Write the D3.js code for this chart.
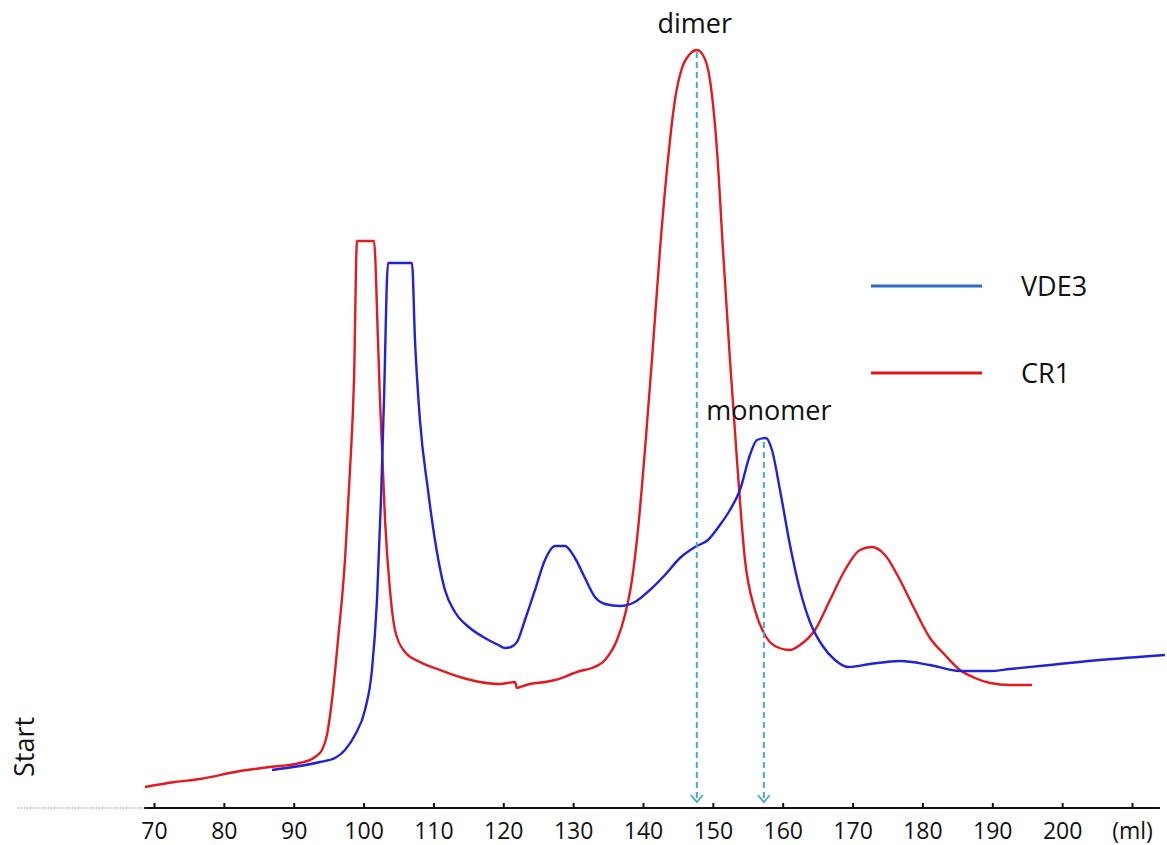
<!DOCTYPE html>
<html>
<head>
<meta charset="utf-8">
<script src="https://cdn.jsdelivr.net/npm/d3@7"></script>
<style>
  body { margin: 0; background: #fff; }
  svg text { font-family: "Open Sans", "DejaVu Sans", sans-serif; fill: #111; }
</style>
</head>
<body>
<div id="chart"></div>
<script>
var width = 1167, height = 845;

// elution volume (ml) / absorbance (arb. units)
var cr1_ml  = [68.71,73.01,76.58,82.31,86.60,90.90,93.04,94.05,94.76,95.48,96.34,97.34,98.06,98.63,99.06,101.49,102.06,102.35,103.07,103.78,104.50,105.93,108.07,110.94,113.80,116.66,119.53,121.67,121.96,122.39,123.82,125.97,127.40,130.98,132.70,134.56,136.27,137.42,138.42,139.28,140.28,141.28,142.43,143.57,144.57,145.58,146.72,147.72,148.58,149.59,150.59,151.45,152.45,153.45,154.60,156.03,157.46,158.89,161.04,162.47,164.62,166.77,168.91,171.06,172.78,174.64,176.79,178.93,181.08,183.23,185.37,187.52,189.67,192.53,195.68];
var cr1_abs = [21,26,29,37,41,45,51,58,73,108,168,248,338,428,567,567,468,408,288,218,178,156,146,138,131,126,124,126,120,121,124,126,128,137,140,148,168,193,228,278,358,448,558,648,708,740,754,758,753,728,658,558,448,348,248,198,173,162,158,163,178,208,238,258,261,253,228,198,170,153,138,130,125,123,123];

var vde3_ml  = [86.89,90.90,93.76,95.91,97.34,98.77,100.20,101.20,101.92,102.49,102.92,103.50,106.93,107.36,108.07,109.22,110.22,111.65,113.08,115.23,117.37,119.30,120.24,121.10,121.96,123.10,124.54,125.97,127.40,128.83,130.26,131.69,133.12,134.56,136.70,138.85,140.99,143.14,145.29,147.44,149.30,151.01,152.45,153.88,155.31,156.31,157.60,158.46,159.61,161.04,162.47,163.90,165.62,167.48,169.34,172.49,176.79,181.08,185.37,189.67,192.53,198.25,205.41,214.71];
var vde3_abs = [38,42,46,50,58,73,98,138,208,308,408,545,545,468,388,318,268,218,196,180,170,163,160,161,166,188,218,248,262,262,250,230,211,204,202,206,218,233,250,261,268,283,298,318,353,368,370,358,318,263,218,186,163,148,141,144,147,143,137,137,139,143,148,153];

var tickValues = [70,80,90,100,110,120,130,140,150,160,170,180,190,200,210];
var tickLabels = ["70","80","90","100","110","120","130","140","150","160","170","180","190","200","(ml)"];

var peakNames = ["dimer", "monomer"];
var peakMl    = [147.7, 157.3];
var peakTop   = [758, 368];

var seriesNames  = ["VDE3", "CR1"];
var seriesColors = ["#2e6fc0", "#e01818"];
var lineColors   = { "VDE3": "#1f22d8", "CR1": "#e3191f" };

var x = d3.scaleLinear().domain([70, 210]).range([154, 1132]);
var y = d3.scaleLinear().domain([0, 760]).range([808, 48]);

var svg = d3.select("#chart")
  .append("svg")
  .attr("width", width)
  .attr("height", height);

// open arrow head, drawn pointing along +x (orient auto turns it)
svg.append("defs").append("marker")
  .attr("id", "arrow")
  .attr("viewBox", "0 0 14 14")
  .attr("refX", 12).attr("refY", 7)
  .attr("markerWidth", 14).attr("markerHeight", 14)
  .attr("markerUnits", "userSpaceOnUse")
  .attr("orient", "auto")
  .append("path")
  .attr("d", "M5,1 L12,7 L5,13")
  .attr("fill", "none")
  .attr("stroke", "#4aa9c2")
  .attr("stroke-width", 1.8);

// left dotted baseline
svg.append("line")
  .attr("x1", 18).attr("x2", x(68.6))
  .attr("y1", y(0)).attr("y2", y(0))
  .attr("stroke", "#888")
  .attr("stroke-width", 1)
  .attr("stroke-dasharray", "1.5,1.5");

// axis
svg.append("line")
  .attr("x1", x(68.6)).attr("x2", x(214))
  .attr("y1", y(0)).attr("y2", y(0))
  .attr("stroke", "#111")
  .attr("stroke-width", 2);

var axis = d3.axisBottom(x)
  .tickValues(tickValues)
  .tickFormat(function(d, i) { return tickLabels[i]; })
  .tickSizeInner(-5)
  .tickSizeOuter(0)
  .tickPadding(15);

var gAxis = svg.append("g")
  .attr("transform", "translate(0," + y(0) + ")")
  .call(axis);
gAxis.select(".domain").remove();
gAxis.selectAll(".tick line").attr("stroke", "#111").attr("stroke-width", 2);
gAxis.selectAll(".tick text")
  .attr("font-size", 23)
  .attr("font-family", "\"Open Sans\", sans-serif")
  .attr("fill", "#111");

// Start label
svg.append("text")
  .attr("transform", "translate(34,747) rotate(-90)")
  .attr("text-anchor", "middle")
  .attr("font-size", 27)
  .text("Start");

var line = d3.line()
  .x(function(d) { return x(d[0]); })
  .y(function(d) { return y(d[1]); })
  .curve(d3.curveMonotoneX);

svg.append("path")
  .datum(d3.zip(cr1_ml, cr1_abs))
  .attr("d", line)
  .attr("fill", "none")
  .attr("stroke", lineColors["CR1"])
  .attr("stroke-width", 2.4);

svg.append("path")
  .datum(d3.zip(vde3_ml, vde3_abs))
  .attr("d", line)
  .attr("fill", "none")
  .attr("stroke", lineColors["VDE3"])
  .attr("stroke-width", 2.4);

// peak markers
peakNames.forEach(function(name, i) {
  svg.append("line")
    .attr("x1", x(peakMl[i])).attr("x2", x(peakMl[i]))
    .attr("y1", y(peakTop[i]) + 2).attr("y2", y(6))
    .attr("stroke", "#4aa9c2")
    .attr("stroke-width", 2)
    .attr("stroke-dasharray", "6,4")
    .attr("marker-end", "url(#arrow)");
});

svg.append("text")
  .attr("x", x(peakMl[0]) - 2).attr("y", 33)
  .attr("text-anchor", "middle")
  .attr("font-size", 27)
  .text(peakNames[0]);

svg.append("text")
  .attr("x", x(peakMl[1]) + 5).attr("y", 420)
  .attr("text-anchor", "middle")
  .attr("font-size", 27)
  .text(peakNames[1]);

// legend
var legend = svg.append("g");
seriesNames.forEach(function(name, i) {
  var ly = 286 + i * 87;
  legend.append("line")
    .attr("x1", 871).attr("x2", 982)
    .attr("y1", ly).attr("y2", ly)
    .attr("stroke", seriesColors[i])
    .attr("stroke-width", 3);
  legend.append("text")
    .attr("x", 1021).attr("y", ly + 10)
    .attr("font-size", 27)
    .text(name);
});
</script>
</body>
</html>
